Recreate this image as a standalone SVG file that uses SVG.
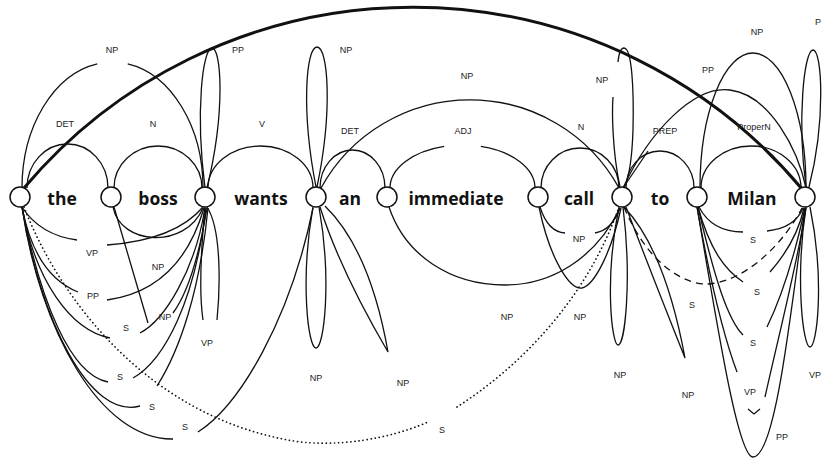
<svg xmlns="http://www.w3.org/2000/svg" width="822" height="461" viewBox="0 0 822 461">
<style>
.e{fill:none;stroke:#111;stroke-width:1.3}
.tk{stroke-width:3}
.dot{stroke-dasharray:0.1 4;stroke-linecap:round;stroke-width:1.7}
.dash{stroke-dasharray:7 5}
.lbl{font-family:"Liberation Sans",Arial,sans-serif;font-size:9px;fill:#222;text-anchor:middle}
.word{font-family:"Open Sans","Liberation Sans",sans-serif;font-weight:700;font-size:17.5px;fill:#111;text-anchor:middle}
.v{fill:#fff;stroke:#111;stroke-width:1.5}
</style>
<rect width="822" height="461" fill="#fff"/>
<g id="connectors">
  <path class="e tk" d="M24,188 A508 508 0 0 1 802,189"/>
  <path class="e" d="M27,188 A40.5 44 0 0 1 108,188"/>
  <path class="e" d="M114,188 A44 42 0 0 1 202,188"/>
  <path class="e" d="M208,188 A52.5 42 0 0 1 313,188"/>
  <path class="e" d="M320,188 A32.5 38 0 0 1 385,188"/>
  <path class="e" d="M390,188 A72.5 43 0 0 1 535,188" pathLength="100" stroke-dasharray="40 20 100"/>
  <path class="e" d="M541,188 A39 40 0 0 1 619,188"/>
  <path class="e" d="M626,188 A34 37 0 0 1 694,188"/>
  <path class="e" d="M701,188 A50 42 0 0 1 801,188"/>
  <path class="e" d="M22,188 A90.5 126 0 0 1 203,188" pathLength="100" stroke-dasharray="45.5 9 100"/>
  <path class="e" d="M321,188 A170 170 0 0 1 619,188"/>
  <path class="e" d="M623,188 C650,130 695,85 730,90 C770,95 798,150 806,188"/>
  <path class="e" stroke-width="2.4" d="M623,188 L648,151"/>
  <path class="e" d="M700,188 A53 135 0 0 1 806,188"/>
  <path class="e" d="M205,188 C195,110 203,48 212,48 C221,48 226,110 207,188"/>
  <path class="e" d="M316,187 C301,110 306,47 317,47 C328,47 333,110 317,187"/>
  <path class="e" d="M620,187 C612,150 612,110 613,97"/>
  <path class="e" d="M618,62 C619,52 621,48 624,48 C632,48 634,90 633,130 C632,160 628,180 624,188"/>
  <path class="e" d="M806,187 C797,120 804,50 813,50 C822,50 826,120 809,187"/>
  <path class="e" d="M22,207 Q40,235 77,240"/>
  <path class="e" d="M107,245 Q175,240 203,207"/>
  <path class="e" d="M113,207 C120,245 185,250 203,208"/>
  <path class="e" d="M22,207 Q35,275 78,292"/>
  <path class="e" d="M107,300 Q180,290 204,208"/>
  <path class="e" d="M114,207 L148,323"/>
  <path class="e" d="M173,313 C190,290 200,250 207,208"/>
  <path class="e" d="M22,207 C35,280 70,330 110,338"/>
  <path class="e" d="M140,333 C165,320 195,270 205,208"/>
  <path class="e" d="M22,207 C40,300 70,375 108,382"/>
  <path class="e" d="M133,378 C165,360 195,300 206,208"/>
  <path class="e" d="M22,207 C40,320 90,420 140,406"/>
  <path class="e" d="M157,386 C180,350 200,290 208,208"/>
  <path class="e" d="M22,207 C40,330 100,440 173,439"/>
  <path class="e" d="M198,432 C240,405 290,320 313,208"/>
  <path class="e dot" d="M24,207 C60,300 150,420 300,442 C360,448 410,430 428,422"/>
  <path class="e dot" d="M457,407 C530,360 590,290 619,207"/>
  <path class="e" d="M205,207 C200,260 200,300 203,320"/>
  <path class="e" d="M217,320 C220,290 222,230 207,207"/>
  <path class="e" d="M313,207 C300,280 308,348 316,348 C324,348 332,280 319,207"/>
  <path class="e" d="M320,207 Q340,270 388,352 Q370,250 325,206"/>
  <path class="e" d="M619,207 C604,280 612,345 618,345 C625,345 632,280 623,207"/>
  <path class="e" d="M624,207 Q665,250 685,358 Q650,270 626,207"/>
  <path class="e" d="M806,207 C795,280 803,347 810,347 C817,347 825,280 810,207"/>
  <path class="e" d="M389,207 C405,255 450,285 505,285 C550,285 595,260 620,208"/>
  <path class="e" d="M540,207 Q548,232 565,233"/>
  <path class="e" d="M595,233 Q612,230 620,208"/>
  <path class="e" d="M539,207 C550,260 570,290 582,288 C595,285 612,250 621,208"/>
  <path class="e dash" d="M624,207 C650,270 690,285 707,284 C740,283 780,250 802,208"/>
  <path class="e" d="M699,207 Q712,232 743,232"/>
  <path class="e" d="M767,231 Q795,228 803,208"/>
  <path class="e" d="M698,207 C710,250 725,270 743,282"/>
  <path class="e" d="M770,272 C785,255 798,235 804,208"/>
  <path class="e" d="M698,207 C715,280 728,320 743,335"/>
  <path class="e" d="M767,327 C785,290 798,240 805,208"/>
  <path class="e" d="M697,207 C710,280 725,340 737,372"/>
  <path class="e" d="M765,397 C780,330 798,260 806,208"/>
  <path class="e" d="M748,409 L754,414 L760,409"/>
  <path class="e" d="M697,207 C718,330 738,457 753,457 C775,457 790,320 805,208"/>
</g>
<g id="edge-labels">
  <text class="lbl" x="112" y="53">NP</text>
  <text class="lbl" x="238" y="53">PP</text>
  <text class="lbl" x="346" y="53">NP</text>
  <text class="lbl" x="65" y="127">DET</text>
  <text class="lbl" x="153" y="127">N</text>
  <text class="lbl" x="262" y="127">V</text>
  <text class="lbl" x="467" y="79">NP</text>
  <text class="lbl" x="350" y="134">DET</text>
  <text class="lbl" x="463" y="134">ADJ</text>
  <text class="lbl" x="581" y="130">N</text>
  <text class="lbl" x="602" y="83">NP</text>
  <text class="lbl" x="665" y="134">PREP</text>
  <text class="lbl" x="708" y="73">PP</text>
  <text class="lbl" x="754" y="130">ProperN</text>
  <text class="lbl" x="757" y="35">NP</text>
  <text class="lbl" x="821" y="25" style="text-anchor:end">P</text>
  <text class="lbl" x="92" y="256">VP</text>
  <text class="lbl" x="158" y="270">NP</text>
  <text class="lbl" x="93" y="299">PP</text>
  <text class="lbl" x="165" y="320">NP</text>
  <text class="lbl" x="126" y="331">S</text>
  <text class="lbl" x="207" y="346">VP</text>
  <text class="lbl" x="120" y="380">S</text>
  <text class="lbl" x="152" y="410">S</text>
  <text class="lbl" x="185" y="430">S</text>
  <text class="lbl" x="316" y="381">NP</text>
  <text class="lbl" x="403" y="386">NP</text>
  <text class="lbl" x="507" y="320">NP</text>
  <text class="lbl" x="442" y="433">S</text>
  <text class="lbl" x="579" y="242">NP</text>
  <text class="lbl" x="580" y="320">NP</text>
  <text class="lbl" x="620" y="378">NP</text>
  <text class="lbl" x="688" y="398">NP</text>
  <text class="lbl" x="692" y="308">S</text>
  <text class="lbl" x="753" y="243">S</text>
  <text class="lbl" x="757" y="295">S</text>
  <text class="lbl" x="753" y="346">S</text>
  <text class="lbl" x="750" y="395">VP</text>
  <text class="lbl" x="782" y="440">PP</text>
  <text class="lbl" x="815" y="378">VP</text>
</g>
<g id="v0"><circle class="v" cx="20" cy="197" r="10"/></g>
<g id="v1"><circle class="v" cx="111" cy="197" r="10"/></g>
<g id="v2"><circle class="v" cx="205" cy="197" r="10"/></g>
<g id="v3"><circle class="v" cx="316" cy="197" r="10"/></g>
<g id="v4"><circle class="v" cx="387" cy="197" r="10"/></g>
<g id="v5"><circle class="v" cx="538" cy="197" r="10"/></g>
<g id="v6"><circle class="v" cx="622" cy="197" r="10"/></g>
<g id="v7"><circle class="v" cx="697" cy="197" r="10"/></g>
<g id="v8"><circle class="v" cx="805" cy="197" r="10"/></g>
<g id="w-the"><text class="word" x="62" y="205">the</text></g>
<g id="w-boss"><text class="word" x="158" y="205">boss</text></g>
<g id="w-wants"><text class="word" x="261" y="205">wants</text></g>
<g id="w-an"><text class="word" x="350" y="205">an</text></g>
<g id="w-immediate"><text class="word" x="456" y="205">immediate</text></g>
<g id="w-call"><text class="word" x="579" y="205">call</text></g>
<g id="w-to"><text class="word" x="660" y="205">to</text></g>
<g id="w-Milan"><text class="word" x="752" y="205">Milan</text></g>
</svg>
